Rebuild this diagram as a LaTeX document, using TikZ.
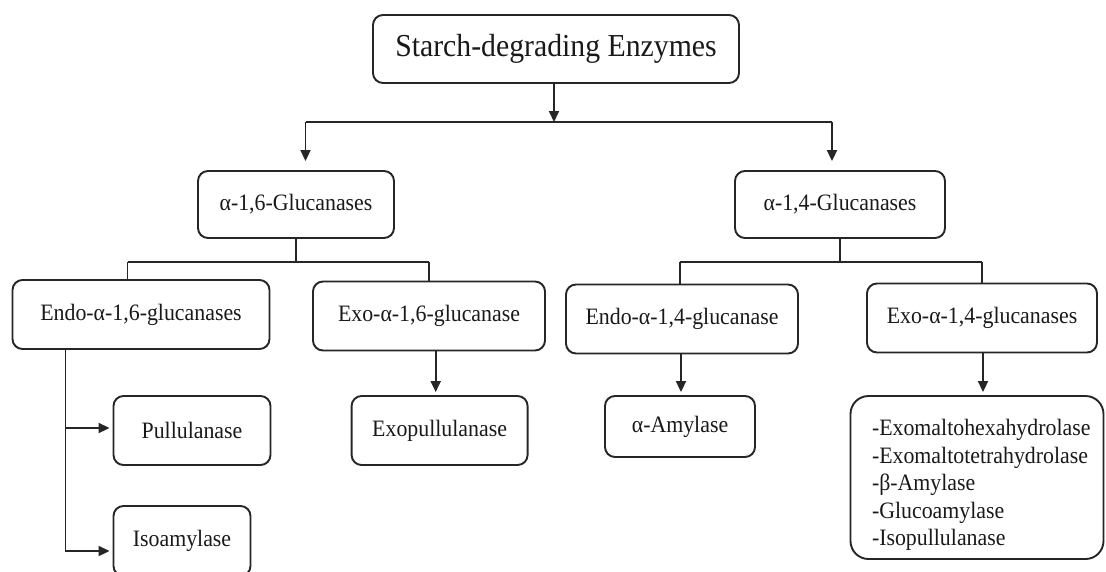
\documentclass[tikz,border=0pt]{standalone}
\usepackage{fontspec}
\setmainfont{Liberation Serif}[FakeStretch=0.93]
\usetikzlibrary{arrows.meta,calc}
\begin{document}
\begin{tikzpicture}[x=1pt,y=-1pt,
  box/.style={draw=black!85, line width=1.9pt, rounded corners=10pt, inner sep=0pt,
    align=center, text=black!90, font=\fontsize{23.5}{27.5}\selectfont},
  ln/.style={draw=black!85, line width=1.9pt},
  arr/.style={ln, -{Triangle[length=11pt,width=10pt]}, shorten >=3pt}
]
\useasboundingbox (0,0) rectangle (1106,571);
\clip (0,0) rectangle (1106,571);

% nodes
\node[box, minimum width=366pt, minimum height=68pt, font=\fontsize{32}{36}\selectfont] (top) at (556,49) {Starch-degrading Enzymes};
\node[box, minimum width=196pt, minimum height=67pt] (a16) at (296,204.5) {α-1,6-Glucanases};
\node[box, minimum width=210pt, minimum height=67pt] (a14) at (840,204.5) {α-1,4-Glucanases};
\node[box, minimum width=257pt, minimum height=69pt] (endo16) at (141,314.5) {Endo-α-1,6-glucanases};
\node[box, minimum width=232pt, minimum height=69pt] (exo16) at (429,316) {Exo-α-1,6-glucanase};
\node[box, minimum width=232pt, minimum height=69pt] (endo14) at (682,319) {Endo-α-1,4-glucanase};
\node[box, minimum width=230pt, minimum height=69pt] (exo14) at (982,318) {Exo-α-1,4-glucanases};
\node[box, minimum width=157pt, minimum height=69pt] (pull) at (192,430.5) {Pullulanase};
\node[box, minimum width=137pt, minimum height=70pt] (iso) at (182,541) {Isoamylase};
\node[box, minimum width=176pt, minimum height=69pt] (exopull) at (439.6,430.5) {Exopullulanase};
\node[box, minimum width=150pt, minimum height=61pt] (amyl) at (680,426.5) {α-Amylase};
\node[box, rounded corners=18pt, minimum height=163pt, inner xsep=21.5pt, text width=210pt, align=left] (list) at (977,477.5)
  {\mbox{\rule{0pt}{31pt}-Exomaltohexahydrolase}\\\mbox{-Exomaltotetrahydrolase}\\\mbox{-β-Amylase}\\\mbox{-Glucoamylase}\\\mbox{-Isopullulanase}};

% junction coordinates
\coordinate (h1) at (554,122);
\coordinate (hl) at (305.5,122);
\coordinate (hr) at (832,122);
\coordinate (bl) at (127.5,262);
\coordinate (br) at (428.6,262);
\coordinate (cl) at (680,262);
\coordinate (cr) at (982,262);
\coordinate (v) at (65.5,552);
\coordinate (pa) at (65.5,428);
\coordinate (ia) at (65.5,551);
\coordinate (xa) at (435.7,0);
\coordinate (ea) at (681,0);
\coordinate (la) at (983,0);

% top level
\draw[arr, shorten >=0pt] (top.south -| h1) -- (h1);
\draw[ln] (hl) -- (hr);
\draw[arr, shorten >=9pt] (hl) -- (hl |- a16.north);
\draw[arr, shorten >=9pt] (hr) -- (hr |- a14.north);

% alpha-1,6 branch
\draw[ln] (a16.south) -- (a16.south |- bl);
\draw[ln] (bl) -- (br);
\draw[ln] (bl) -- (bl |- endo16.north);
\draw[ln] (br) -- (br |- exo16.north);

% alpha-1,4 branch
\draw[ln] (a14.south) -- (a14.south |- cl);
\draw[ln] (cl) -- (cr);
\draw[ln] (cl) -- (cl |- endo14.north);
\draw[ln] (cr) -- (cr |- exo14.north);

% endo-1,6 children
\draw[ln] (endo16.south -| v) -- (v);
\draw[arr] (pa) -- (pa -| pull.west);
\draw[arr] (ia) -- (ia -| iso.west);

% other children
\draw[arr] (exo16.south -| xa) -- (exopull.north -| xa);
\draw[arr] (endo14.south -| ea) -- (amyl.north -| ea);
\draw[arr] (exo14.south -| la) -- (list.north -| la);
\end{tikzpicture}
\end{document}
